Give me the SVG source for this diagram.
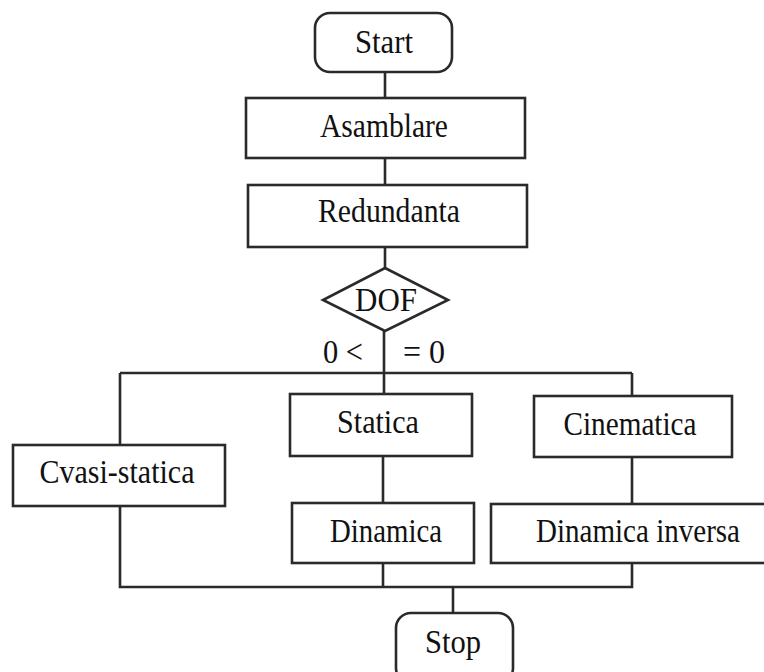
<svg xmlns="http://www.w3.org/2000/svg" width="764" height="672" viewBox="0 0 764 672">
<style>
.box{fill:#fff;stroke:#2a2a2a;stroke-width:2.6}
.ln{fill:none;stroke:#2a2a2a;stroke-width:2.6}
text{font-family:"Liberation Serif","Times New Roman",serif;font-size:33px;fill:#111;text-anchor:middle}
</style>
<rect width="764" height="672" fill="#fff"/>
<g id="connectors">
<path class="ln" d="M385 72V98M385 158V185M385 247V268M384 331V373M120 373H632M120 373V445M384 373V394M632 373V396M120 506V587H632V563M383 456V503M383 563V587M632 457V504M453 587V613"/>
</g>
<g id="start"><rect class="box" x="315" y="13" width="137" height="59" rx="15"/><text x="384" y="53" textLength="58" lengthAdjust="spacingAndGlyphs">Start</text></g>
<g id="asamblare"><rect class="box" x="246" y="98" width="279" height="60"/><text x="384" y="137" textLength="128" lengthAdjust="spacingAndGlyphs">Asamblare</text></g>
<g id="redundanta"><rect class="box" x="248" y="185" width="279" height="62"/><text x="389" y="222" textLength="142" lengthAdjust="spacingAndGlyphs">Redundanta</text></g>
<g id="dof"><polygon class="box" points="385,268 448,300 385,331 323,300"/><text x="386" y="311" textLength="62" lengthAdjust="spacingAndGlyphs">DOF</text></g>
<g id="labels"><text x="343" y="363" textLength="40" lengthAdjust="spacingAndGlyphs">0 &lt;</text><text x="424" y="363" textLength="42" lengthAdjust="spacingAndGlyphs">= 0</text></g>
<g id="cvasi"><rect class="box" x="13" y="445" width="212" height="61"/><text x="117" y="483" textLength="155" lengthAdjust="spacingAndGlyphs">Cvasi-statica</text></g>
<g id="statica"><rect class="box" x="290" y="394" width="182" height="62"/><text x="378" y="433" textLength="82" lengthAdjust="spacingAndGlyphs">Statica</text></g>
<g id="cinematica"><rect class="box" x="534" y="396" width="198" height="61"/><text x="630" y="435" textLength="133" lengthAdjust="spacingAndGlyphs">Cinematica</text></g>
<g id="dinamica"><rect class="box" x="292" y="503" width="182" height="60"/><text x="386" y="542" textLength="112" lengthAdjust="spacingAndGlyphs">Dinamica</text></g>
<g id="dinamica-inversa"><rect class="box" x="491" y="504" width="290" height="59"/><text x="638" y="542" textLength="204" lengthAdjust="spacingAndGlyphs">Dinamica inversa</text></g>
<g id="stop"><rect class="box" x="396" y="613" width="117" height="70" rx="15"/><text x="453" y="653" textLength="56" lengthAdjust="spacingAndGlyphs">Stop</text></g>
</svg>
